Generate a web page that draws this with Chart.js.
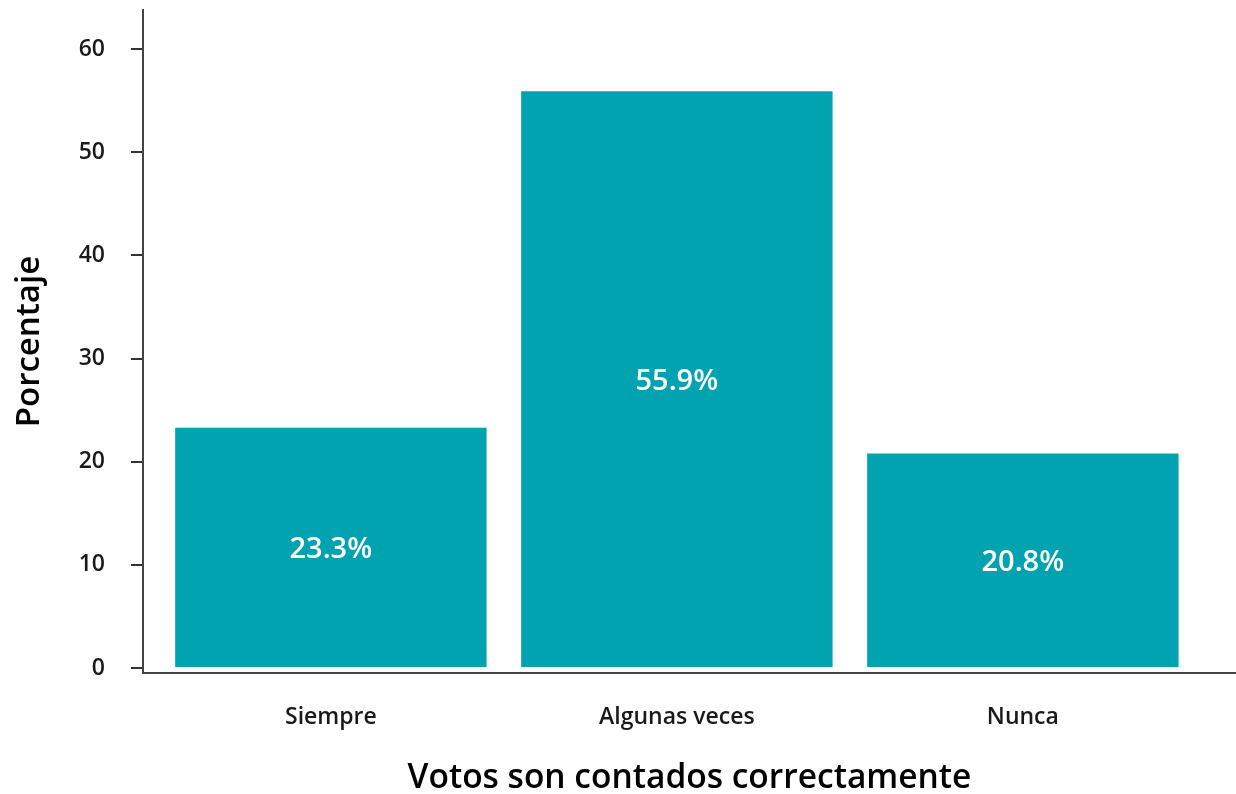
<!DOCTYPE html>
<html>
<head>
<meta charset="utf-8">
<script src="https://cdn.jsdelivr.net/npm/chart.js@4"></script>
<style>
html,body{margin:0;padding:0;background:#fff;}
#wrap{width:1236px;height:794px;}
</style>
</head>
<body>
<div id="wrap"><canvas id="barChart" width="1236" height="794"></canvas></div>
<script>
const categories = ["Siempre", "Algunas veces", "Nunca"];
const porcentajes = [23.3, 55.9, 20.8];
const yTicks = [0, 10, 20, 30, 40, 50, 60];

const barColor = "#01a3b1";

// white labels in the middle of each bar
const midLabels = {
    id: "midLabels",
    afterDatasetsDraw(chart){
        const ctx = chart.ctx;
        const meta = chart.getDatasetMeta(0);
        const yScale = chart.scales.y;
        ctx.save();
        ctx.fillStyle = "#ffffff";
        ctx.font = "600 29px 'Open Sans'";
        ctx.textAlign = "center";
        ctx.textBaseline = "middle";
        meta.data.forEach((bar, i) => {
            const v = porcentajes[i];
            ctx.fillText(v.toFixed(1) + "%", bar.x, yScale.getPixelForValue(v / 2) + 2);
        });
        ctx.restore();
    }
};

window.onload = () => {

    const ctx = document.getElementById("barChart");

    new Chart(ctx, {
        type: "bar",
        data: {
            datasets: [{
                label: "Porcentaje",
                data: categories.map((c, i) => ({x: i + 1, y: porcentajes[i]})),
                backgroundColor: barColor,
                barPercentage: 0.9,
                categoryPercentage: 1
            }]
        },
        options: {
            responsive: false,
            animation: false,
            layout: {padding: {top: 10, right: 0, left: 0, bottom: 0}},
            plugins: {
                legend: {display: false},
                tooltip: {enabled: false}
            },
            scales: {
                x: {
                    type: "linear",
                    offset: false,
                    min: 0.457,
                    max: 3.616,
                    afterBuildTicks: (axis) => {
                        axis.ticks = categories.map((c, i) => ({value: i + 1}));
                    },
                    afterFit: (axis) => {
                        axis.height = 121;
                        axis.paddingLeft = 0;
                        axis.paddingRight = 0;
                    },
                    grid: {display: false},
                    border: {display: true, color: "#444", width: 2},
                    ticks: {
                        color: "#1a1a1a",
                        padding: 23,
                        maxRotation: 0,
                        font: {family: "'Open Sans'", size: 23, weight: "600"},
                        callback: (v) => categories[v - 1]
                    },
                    title: {
                        display: true,
                        text: "Votos son contados correctamente",
                        color: "#000",
                        padding: {top: 20, bottom: -5},
                        font: {family: "'Open Sans'", size: 33.5, weight: "600"}
                    }
                },
                y: {
                    min: -0.48,
                    max: 63.78,
                    afterBuildTicks: (axis) => {
                        axis.ticks = yTicks.map(v => ({value: v}));
                    },
                    afterFit: (axis) => {
                        axis.width = 143;
                        axis.paddingTop = 0;
                        axis.paddingBottom = 0;
                    },
                    grid: {
                        display: true,
                        drawOnChartArea: false,
                        drawTicks: true,
                        tickLength: 12,
                        color: "#333",
                        lineWidth: 2
                    },
                    border: {display: true, color: "#444", width: 2},
                    ticks: {
                        color: "#1a1a1a",
                        padding: 26,
                        font: {family: "'Open Sans'", size: 23, weight: "600"}
                    },
                    title: {
                        display: true,
                        text: "Porcentaje",
                        color: "#000",
                        padding: {top: 10, bottom: 0},
                        font: {family: "'Open Sans'", size: 33, weight: "600"}
                    }
                }
            }
        },
        plugins: [midLabels]
    });
};
</script>
</body>
</html>
